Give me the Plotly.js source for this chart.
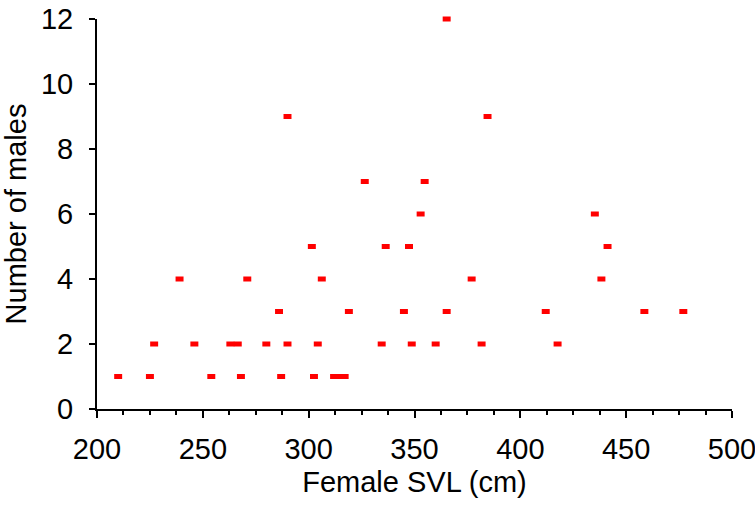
<!DOCTYPE html>
<html>
<head>
<meta charset="utf-8">
<script src="https://cdn.plot.ly/plotly-3.0.1.min.js"></script>
<style>html,body{margin:0;padding:0;background:#fff;}#chart{width:755px;height:506px;}</style>
</head>
<body>
<div id="chart"></div>
<script>
// Female snout-vent length (cm)
const femaleSVL = [210, 225, 227, 239, 246, 254, 263, 266.5, 268, 271,
  280, 286, 287, 290, 290, 301.5, 302.5, 304.3, 306.2, 312,
  314.5, 317, 319, 326.5, 334.5, 336.4, 345, 347.4, 348.7, 352.9,
  354.8, 360, 365.2, 365.2, 377, 381.7, 384.5, 412, 417.6, 435.2,
  438.3, 441.2, 458.6, 477];
// Number of males
const numMales = [1, 1, 2, 4, 2, 1, 2, 2, 1, 4,
  2, 3, 1, 2, 9, 5, 1, 2, 4, 1,
  1, 1, 3, 7, 2, 5, 3, 5, 2, 6,
  7, 2, 3, 12, 4, 2, 9, 3, 2, 6,
  4, 5, 3, 3];

const xTitle = 'Female SVL (cm)';
const yTitle = 'Number of males';

const font = {family: 'Liberation Sans, Arial, sans-serif', size: 29, color: '#000'};

Plotly.newPlot('chart', [{
  x: femaleSVL,
  y: numMales,
  type: 'scatter',
  mode: 'markers',
  marker: {symbol: 'line-ew', size: 5.7, color: '#ff0000', line: {width: 5, color: '#ff0000'}},
  cliponaxis: false,
  hoverinfo: 'x+y'
}], {
  width: 755, height: 506,
  margin: {l: 97, r: 23, t: 19, b: 97},
  paper_bgcolor: '#fff', plot_bgcolor: '#fff',
  showlegend: false,
  font: font,
  xaxis: {
    range: [200, 500], dtick: 50, tick0: 200,
    showgrid: false, zeroline: false,
    showline: true, linecolor: '#000', linewidth: 2,
    ticks: 'outside', ticklen: 7, tickwidth: 2, tickcolor: '#000',
    minor: {dtick: 12.5, ticks: 'outside', ticklen: 4, tickwidth: 2, tickcolor: '#000', showgrid: false},
    ticklabelstandoff: 6,
    ticklabeloverflow: 'allow',
    tickfont: font,
    title: {text: xTitle, font: font, standoff: 8}
  },
  yaxis: {
    range: [0, 12], dtick: 2, tick0: 0,
    showgrid: false, zeroline: false,
    showline: true, linecolor: '#000', linewidth: 2,
    ticks: 'outside', ticklen: 6, tickwidth: 2, tickcolor: '#000',
    ticklabelstandoff: 10,
    tickfont: font,
    title: {text: yTitle, font: font, standoff: 6}
  }
}, {displayModeBar: false, staticPlot: true});
</script>
</body>
</html>
